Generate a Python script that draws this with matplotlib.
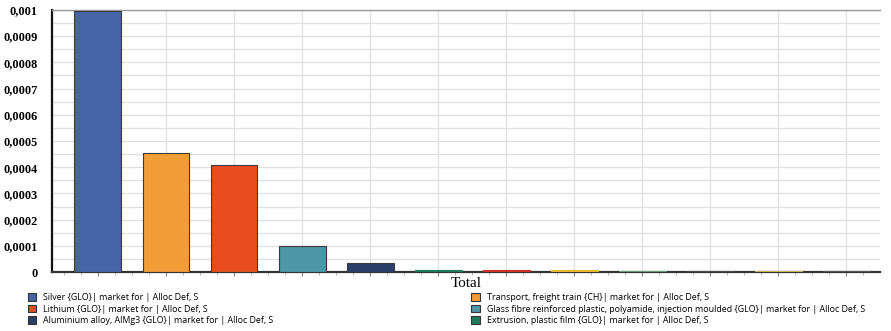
import numpy as np
import matplotlib
matplotlib.use("Agg")
import matplotlib.pyplot as plt
from matplotlib.ticker import MultipleLocator, FuncFormatter
from matplotlib.patches import Patch

# contributions per process (kg eq), in drawing order
processes = [
    "Silver {GLO}| market for | Alloc Def, S",
    "Transport, freight train {CH}| market for | Alloc Def, S",
    "Lithium {GLO}| market for | Alloc Def, S",
    "Glass fibre reinforced plastic, polyamide, injection moulded {GLO}| market for | Alloc Def, S",
    "Aluminium alloy, AlMg3 {GLO}| market for | Alloc Def, S",
    "Extrusion, plastic film {GLO}| market for | Alloc Def, S",
    "", "", "", "", "", "",
]
values = [0.000996, 0.000455, 0.000409, 0.000099, 0.0000345, 0.000008,
          0.000008, 0.000007, 0.000004, 0.000003, 0.000004, 0.000003]
colors = ["#4565a8", "#f29e38", "#e84c1f", "#4b97a8", "#2b3f6b", "#1f7a5c",
          "#d0302a", "#e8b630", "#6a9a7a", "#4a4a4a", "#c8b45a", "#555555"]
edges = ["#3a3a3a"] * 5 + colors[5:]

fig = plt.figure(figsize=(8.91, 3.31), dpi=100)
ax = fig.add_axes([0.058, 0.178, 0.930, 0.792])

x = np.arange(len(values))
ax.bar(x, values, width=0.69, color=colors, edgecolor=edges, linewidth=0.8, zorder=3)

ax.yaxis.set_major_locator(MultipleLocator(0.0001))
ax.yaxis.set_minor_locator(MultipleLocator(0.00005))
ax.yaxis.set_major_formatter(FuncFormatter(
    lambda v, p: "0" if v == 0 else ("%g" % round(v, 6)).replace(".", ",")))
ax.tick_params(axis="y", which="both", length=0, pad=10)
ax.set_xticks(x)
ax.set_xticks(np.arange(-0.5, len(values) - 0.5, 0.25), minor=True)
ax.tick_params(axis="x", which="major", length=3, labelbottom=False, color="#888888")
ax.tick_params(axis="x", which="minor", length=2, color="#aaaaaa")
ax.set_xlim(-0.68, len(values) - 0.5)
ax.set_ylim(0, 0.001)

ax.grid(True, axis="y", which="both", color="#e2e2e2", linewidth=1.0, zorder=0)
ax.grid(True, axis="x", which="major", color="#e2e2e2", linewidth=1.0, zorder=0)

ax.spines["left"].set_linewidth(1.6)
ax.spines["bottom"].set_linewidth(1.6)
ax.spines["left"].set_color("#111111")
ax.spines["bottom"].set_color("#333333")
ax.spines["top"].set_color("#999999")
ax.spines["top"].set_linewidth(1.0)
ax.spines["right"].set_visible(False)

for lab in ax.get_yticklabels():
    lab.set_fontfamily("Liberation Serif")
    lab.set_fontweight("bold")
    lab.set_fontsize(8.8)

ax.set_xlabel("Total", family="Liberation Serif", fontsize=11, labelpad=-2)

# legend, two columns of three entries
handles = [Patch(facecolor=c, edgecolor="#333333", linewidth=0.8, label=n)
           for c, n in zip(colors[:6], processes[:6])]
legend_kw = dict(frameon=False, prop={"family": "Open Sans", "size": 6.4},
                 handlelength=0.95, handleheight=0.95, handletextpad=0.8,
                 labelspacing=0.3, borderpad=0, borderaxespad=0)
fig.legend(handles=[handles[0], handles[2], handles[4]], loc="upper left",
           bbox_to_anchor=(0.031, 0.115), **legend_kw)
fig.legend(handles=[handles[1], handles[3], handles[5]], loc="upper left",
           bbox_to_anchor=(0.529, 0.115), **legend_kw)

fig.savefig("out.png", dpi=100)
